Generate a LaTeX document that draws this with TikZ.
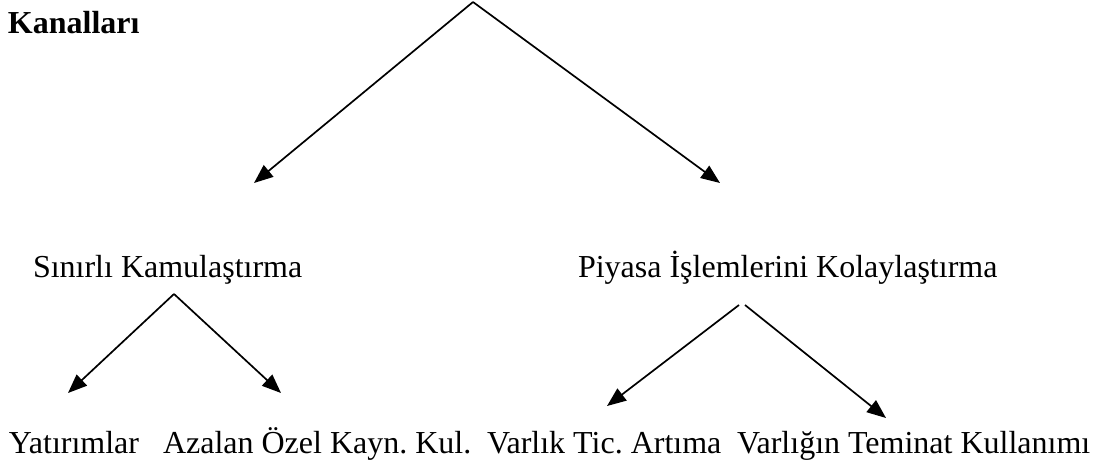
\documentclass[tikz,border=0pt]{standalone}
\usepackage{fontspec}
\setmainfont{Liberation Serif}
\usetikzlibrary{arrows.meta}
\tikzset{
  lbl/.style={inner sep=0pt, outer sep=0pt, anchor=base west, font=\fontsize{32}{38}\selectfont\frenchspacing},
  lblb/.style={lbl, font=\fontsize{32}{38}\selectfont\bfseries},
  arr/.style={line width=1.7pt, -{Triangle[length=19pt, width=15pt]}},
}
\begin{document}
\begin{tikzpicture}[x=1pt, y=-1pt]
\useasboundingbox (0,0) rectangle (1113,466);
% texts
\node[lblb] (kan) at (8,33) {Kanalları};
\node[lbl] (sk) at (33,277) {Sınırlı Kamulaştırma};
\node[lbl] (pik) at (578,277) {Piyasa İşlemlerini Kolaylaştırma};
\node[lbl] (yat) at (9,453) {Yatırımlar};
\node[lbl] (aoz) at (163,453) {Azalan Özel Kayn. Kul.};
\node[lbl] (vta) at (487,453) {Varlık Tic. Artıma};
\node[lbl] (vtk) at (737,453) {Varlığın Teminat Kullanımı};
% apex and tip coordinates
\coordinate (top) at (473,2);
\coordinate (t1) at (254,183);
\coordinate (t2) at (720,183);
\coordinate (skA) at (174,294);
\coordinate (yatT) at (68,393);
\coordinate (aozT) at (281,393);
\coordinate (pikA) at (739,305);
\coordinate (pikB) at (745,305);
\coordinate (vtaT) at (607,406);
\coordinate (vtkT) at (886,418);
% connectors
\draw[arr] (top) -- (t1);
\draw[arr] (top) -- (t2);
\draw[arr] (skA) -- (yatT);
\draw[arr] (skA) -- (aozT);
\draw[arr] (pikA) -- (vtaT);
\draw[arr] (pikB) -- (vtkT);
\end{tikzpicture}
\end{document}
